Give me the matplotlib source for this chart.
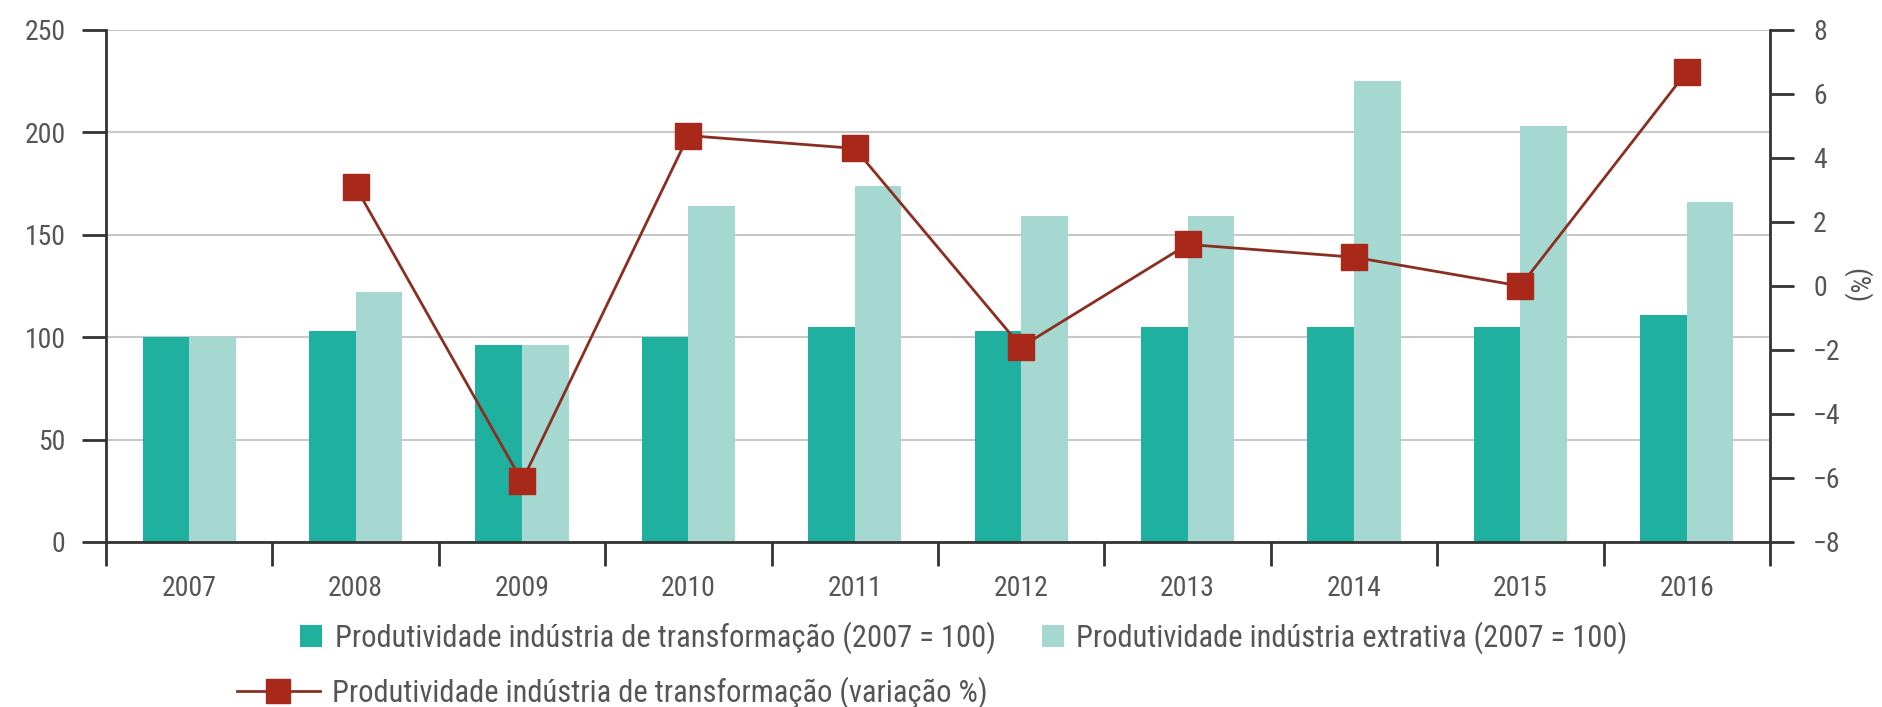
import matplotlib
matplotlib.use("Agg")
import matplotlib.pyplot as plt
from matplotlib import font_manager
from matplotlib.patches import Patch
from matplotlib.lines import Line2D
import numpy as np

years = ["2007", "2008", "2009", "2010", "2011", "2012", "2013", "2014", "2015", "2016"]
transformacao = [100, 103, 96, 100, 105, 103, 105, 105, 105, 111]
extrativa = [100, 122, 96, 164, 174, 159, 159, 225, 203, 166]
variacao = [np.nan, 3.1, -6.1, 4.7, 4.3, -1.9, 1.3, 0.9, 0.0, 6.7]

label_transf = "Produtividade indústria de transformação (2007 = 100)"
label_extr = "Produtividade indústria extrativa (2007 = 100)"
label_var = "Produtividade indústria de transformação (variação %)"

names = {f.name for f in font_manager.fontManager.ttflist}
fam = "DejaVu Sans"
for cand in ["Liberation Sans Narrow", "Roboto Condensed", "Open Sans Condensed", "DejaVu Sans Condensed"]:
    if cand in names:
        fam = cand
        break
plt.rcParams['font.family'] = [fam, 'DejaVu Sans']

C_DARK = "#20b0a0"
C_LIGHT = "#a4d8d0"
C_LINE = "#8a2e22"
C_MARK = "#a8281a"
C_TXT = "#555555"
C_AX = "#333333"
FS = 20
LFS = 22

W, H = 1883, 707
fig = plt.figure(figsize=(W / 100, H / 100), dpi=100)
ax = fig.add_axes([106 / W, 1 - 542 / H, (1770 - 106) / W, (542 - 30) / H])

x = np.arange(len(years))
bw = 0.28
ax.bar(x - bw / 2, transformacao, bw, color=C_DARK, zorder=2)
ax.bar(x + bw / 2, extrativa, bw, color=C_LIGHT, zorder=2)

ax.set_xlim(-0.5, len(years) - 0.5)
ax.set_ylim(0, 250)
ax.set_yticks([0, 50, 100, 150, 200, 250])
ax.yaxis.grid(True, color="#c8c8c8", linewidth=1.5, zorder=0)
ax.set_axisbelow(True)

for s in ["top", "right"]:
    ax.spines[s].set_visible(False)
for s in ["left", "bottom"]:
    ax.spines[s].set_color(C_AX)
    ax.spines[s].set_linewidth(2)

ax.set_xticks(np.arange(-0.5, len(years), 1.0))
ax.set_xticklabels([])
ax.tick_params(axis="x", which="major", length=17, width=2, color=C_AX, direction="out")
ax.set_xticks(x, minor=True)
ax.set_xticklabels(years, minor=True)
ax.tick_params(axis="x", which="minor", length=0, pad=24, labelsize=FS, labelcolor=C_TXT)
ax.tick_params(axis="y", length=17, width=2, color=C_AX, pad=12, labelsize=FS, labelcolor=C_TXT)

ax2 = ax.twinx()
ax2.plot(x, variacao, color=C_LINE, linewidth=2.0, marker="s", markersize=19,
         markerfacecolor=C_MARK, markeredgecolor=C_MARK, zorder=5)
ax2.set_ylim(-8, 8)
ax2.set_yticks(np.arange(-8, 9, 2))
for s in ["top", "left", "bottom"]:
    ax2.spines[s].set_visible(False)
ax2.spines["right"].set_color(C_AX)
ax2.spines["right"].set_linewidth(2)
ax2.tick_params(axis="y", length=17, width=2, color=C_AX, pad=14, labelsize=FS, labelcolor=C_TXT)
ax2.set_ylabel("(%)", rotation=270, fontsize=FS, color=C_TXT, labelpad=22)

# Legends
h1 = Patch(facecolor=C_DARK, edgecolor="none")
h2 = Patch(facecolor=C_LIGHT, edgecolor="none")
leg1 = fig.legend([h1, h2], [label_transf, label_extr], loc="center left",
                  bbox_to_anchor=(300 / W, 1 - 638 / H), ncol=2, frameon=False,
                  fontsize=LFS, borderpad=0, borderaxespad=0, handlelength=0.72,
                  handleheight=0.72, handletextpad=0.42, columnspacing=1.5,
                  labelcolor=C_TXT)
h3 = Line2D([], [], color=C_LINE, linewidth=2.0, marker="s", markersize=17,
            markerfacecolor=C_MARK, markeredgecolor=C_MARK)
leg2 = fig.legend([h3], [label_var], loc="center left",
                  bbox_to_anchor=(237 / W, 1 - 693 / H), frameon=False,
                  fontsize=LFS, borderpad=0, borderaxespad=0, handlelength=2.7,
                  handletextpad=0.42, labelcolor=C_TXT)

fig.savefig("out.png", dpi=100, facecolor="white")
